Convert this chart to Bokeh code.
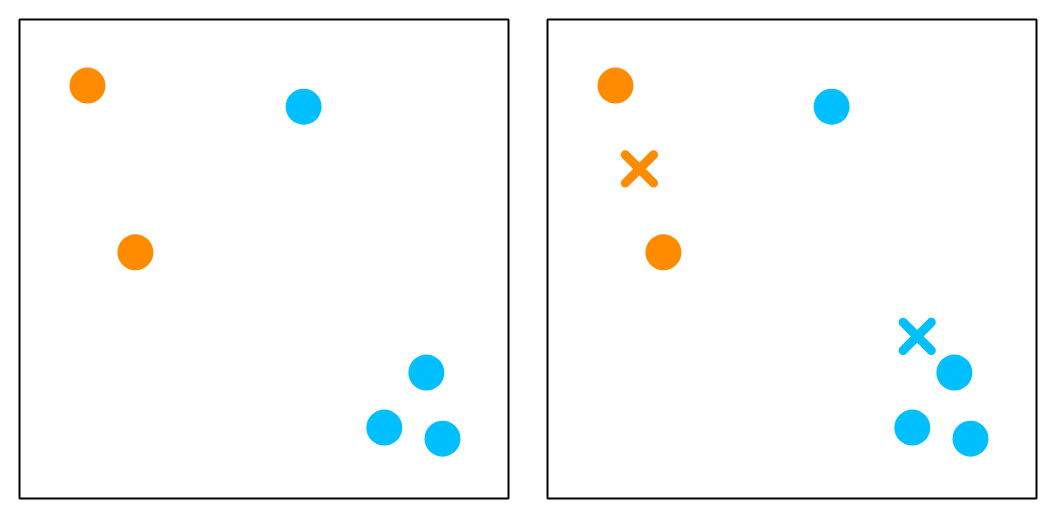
from bokeh.plotting import figure
from bokeh.layouts import row
from bokeh.models import Range1d
from bokeh.embed import file_html
from bokeh.resources import INLINE

# Data points (two clusters)
orange_x = [1.39, 2.37]
orange_y = [8.62, 5.14]
blue_x = [5.81, 8.32, 7.46, 8.65]
blue_y = [8.18, 2.63, 1.48, 1.25]
# Cluster centroids (shown as crosses in right panel)
centroid_orange_x = [1.88]
centroid_orange_y = [6.88]
centroid_blue_x = [7.56]
centroid_blue_y = [3.385]

ORANGE = "#FF8C00"
BLUE = "#00BFFF"


def make_panel(show_centroids):
    p = figure(width=528, height=518, output_backend="svg", toolbar_location=None,
               x_range=Range1d(0, 10), y_range=Range1d(0, 10),
               min_border_left=19, min_border_right=20,
               min_border_top=19, min_border_bottom=20)
    p.axis.visible = False
    p.grid.visible = False
    p.outline_line_color = "black"
    p.outline_line_width = 2
    p.outline_line_alpha = 1
    p.background_fill_color = "white"
    p.border_fill_color = "white"
    p.scatter(orange_x, orange_y, size=36, color=ORANGE, line_width=0)
    p.scatter(blue_x, blue_y, size=36, color=BLUE, line_width=0)
    if show_centroids:
        p.scatter(centroid_orange_x, centroid_orange_y, marker="x", size=40,
                  line_color=ORANGE, line_width=9, line_cap="round")
        p.scatter(centroid_blue_x, centroid_blue_y, marker="x", size=40,
                  line_color=BLUE, line_width=9, line_cap="round")
    return p


p = row(make_panel(False), make_panel(True))
open("out.html", "w").write(file_html(p, INLINE))
